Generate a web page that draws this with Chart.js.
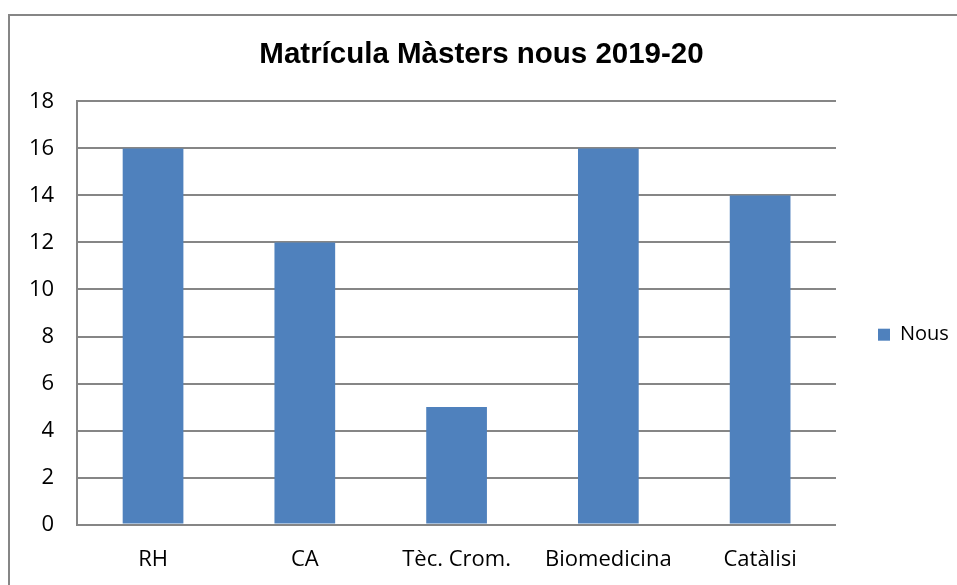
<!DOCTYPE html>
<html><head><meta charset="utf-8">
<script src="https://cdn.jsdelivr.net/npm/chart.js@4"></script>
<style>html,body{margin:0;padding:0;background:#fff}#wrap{width:957px;height:585px;position:relative}</style>
</head><body><div id="wrap"><canvas id="c" width="957" height="585"></canvas></div>
<script>
const categories = ["RH", "CA", "Tèc. Crom.", "Biomedicina", "Catàlisi"];
const nous = [16, 12, 5, 16, 14];
const seriesName = "Nous";
const titleText = "Matrícula Màsters nous 2019-20";

const frame = {
  id: 'frame',
  beforeDraw(chart) {
    const ctx = chart.ctx;
    ctx.save();
    ctx.strokeStyle = '#868686';
    ctx.lineWidth = 2;
    ctx.strokeRect(9, 15, 1000, 1000);
    ctx.restore();
  }
};

new Chart(document.getElementById('c'), {
  type: 'bar',
  data: {
    labels: categories,
    datasets: [{ label: seriesName, data: nous, backgroundColor: '#4f81bd', barPercentage: 0.4, categoryPercentage: 1.0 }]
  },
  options: {
    responsive: false,
    animation: false,
    layout: { padding: { left: 6, right: 0, top: 20, bottom: -10 } },
    plugins: {
      title: { display: true, text: titleText, color: '#000', font: { family: 'Liberation Sans', size: 29.5, weight: 'bold' }, padding: { top: 17, bottom: 29 } },
      legend: {
        position: 'right', maxWidth: 121,
        title: { display: true, text: ' ', font: { size: 12 }, padding: { top: 40, bottom: 0 } },
        labels: { boxWidth: 12, boxHeight: 12, color: '#000', font: { family: 'Open Sans', size: 20 }, padding: 42 }
      },
      tooltip: { enabled: false }
    },
    scales: {
      x: {
        grid: { display: false, drawTicks: false },
        border: { display: false },
        ticks: { color: '#000', font: { family: 'Open Sans', size: 22 }, padding: 22 }
      },
      y: {
        min: 0, max: 18,
        ticks: { stepSize: 2, color: '#000', font: { family: 'Open Sans', size: 22 }, padding: 23 },
        grid: { color: '#868686', lineWidth: 2, drawTicks: false },
        border: { display: true, color: '#868686', width: 2 }
      }
    }
  },
  plugins: [frame]
});
</script></body></html>
